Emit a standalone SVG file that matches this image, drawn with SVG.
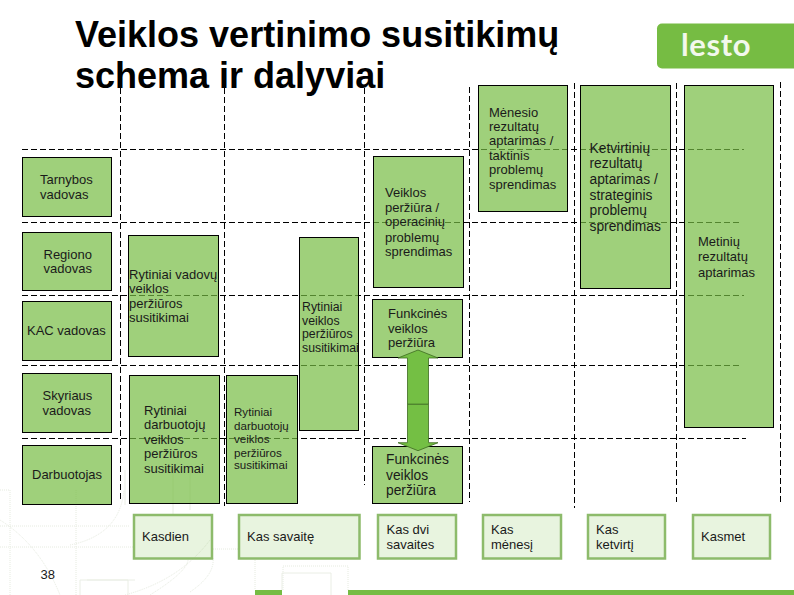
<svg xmlns="http://www.w3.org/2000/svg" width="794" height="595" viewBox="0 0 794 595">
<style>
text{font-family:"Liberation Sans",Arial,sans-serif;font-size:13px;fill:#1a1a1a}
.title{font-size:36px;font-weight:bold;fill:#000}
.b{font-size:13.800px}
.s{font-size:12.300px}
.xs{font-size:11.600px}
.box{fill:#76bc43;fill-opacity:.7;stroke:#000;stroke-width:1}
.pale{fill:#76bc43;fill-opacity:.17;stroke:#8dbb6b;stroke-width:2.500}
.dash{stroke:#000;stroke-width:1;stroke-dasharray:6 3;fill:none}
.deco{stroke:#e6ebe0;stroke-width:1;fill:none;stroke-dasharray:1 1}
.solid{stroke:#eaeee5;stroke-width:1;fill:none}
.arrow{fill:#74bf44;stroke:#3c6a20;stroke-width:.8}
</style>
<rect width="794" height="595" fill="#fff"/>
<g id="decoration">
<path class="deco" d="M0 490H10V595M0 526H130M0 547H133M0 520Q40 545 60 595M70 545Q120 535 124 490M213 549H238M255 560V590M283 590V566H348V590M125 595Q180 580 210 540M150 595Q190 570 188 558M213 558Q215 575 190 592M76 490V595"/>
<path class="solid" d="M282 590V573H331V595M80 595V580H128V595M87 580H135M125 470V505M173 470V514M190 470V510"/>
</g>
<g id="title">
<text class="title" x="75" y="46.500">Veiklos vertinimo susitikimų</text>
<text class="title" x="75" y="88">schema ir dalyviai</text>
</g>
<g id="logo">
<path d="M794 23.500H662a5 5 0 0 0-5 5V63.500a5 5 0 0 0 5 5H794Z" fill="#76bc43"/>
<text x="681" y="55.500" style="font-family:Lato,'Open Sans',sans-serif;font-size:31px;font-weight:bold;fill:#f2f8ec;letter-spacing:.6px">lesto</text>
</g>
<g id="connectors">
<path class="dash" d="M22 149.500H744M22 222.500H741M22 295.500H744M22 365.500H740M22 438.500H746"/>
<path class="dash" d="M120.500 88V499M224.500 88V506M364.500 88V485M469.500 87V502M574.500 83V508M676.500 83V502M780.500 82V503"/>
</g>
<g id="n-tarnybos"><rect class="box" x="22.500" y="157.500" width="89" height="59"/><text x="40" y="184">Tarnybos</text><text x="40" y="199">vadovas</text></g>
<g id="n-regiono"><rect class="box" x="22.500" y="232.500" width="89" height="58"/><text x="43.500" y="259">Regiono</text><text x="43.500" y="273.300">vadovas</text></g>
<g id="n-kac"><rect class="box" x="22.500" y="301.500" width="89" height="59"/><text x="27" y="335">KAC vadovas</text></g>
<g id="n-skyriaus"><rect class="box" x="22.500" y="373.500" width="89" height="59"/><text x="42.500" y="400">Skyriaus</text><text x="42.500" y="415">vadovas</text></g>
<g id="n-darbuotojas"><rect class="box" x="22.500" y="445.500" width="89" height="59"/><text x="32" y="478.700">Darbuotojas</text></g>
<g id="n-rytiniai-vadovu"><rect class="box" x="128.500" y="235.500" width="90" height="121"/><text x="129" y="279">Rytiniai vadovų</text><text x="129" y="293.300">veiklos</text><text x="129" y="308">peržiūros</text><text x="129" y="322">susitikimai</text></g>
<g id="n-rytiniai-veiklos"><rect class="box" x="299.500" y="237.500" width="59" height="193"/><text class="s" x="302" y="311.300">Rytiniai</text><text class="s" x="302" y="325.300">veiklos</text><text class="s" x="302" y="338">peržiūros</text><text class="s" x="302" y="352">susitikimai</text></g>
<g id="n-darbuotoju-1"><rect class="box" x="129.500" y="375.500" width="90" height="128"/><text x="144" y="415">Rytiniai</text><text x="144" y="429">darbuotojų</text><text x="144" y="443.700">veiklos</text><text x="144" y="457.700">peržiūros</text><text x="144" y="472.700">susitikimai</text></g>
<g id="n-darbuotoju-2"><rect class="box" x="226.500" y="375.500" width="71" height="128"/><text class="xs" x="234" y="416.300">Rytiniai</text><text class="xs" x="234" y="430.300">darbuotojų</text><text class="xs" x="234" y="443.300">veiklos</text><text class="xs" x="234" y="456.700">peržiūros</text><text class="xs" x="234" y="469.300">susitikimai</text></g>
<g id="n-veiklos"><rect class="box" x="373.500" y="156.500" width="90" height="131"/><text x="385" y="197">Veiklos</text><text x="385" y="212">peržiūra /</text><text x="385" y="226">operacinių</text><text x="385" y="241.700">problemų</text><text x="385" y="255.700">sprendimas</text></g>
<g id="n-funkcines-1"><rect class="box" x="372.500" y="299.500" width="90" height="58"/><text x="388" y="317.700">Funkcinės</text><text x="388" y="332.700">veiklos</text><text x="388" y="347">peržiūra</text></g>
<g id="n-funkcines-2"><rect class="box" x="372.500" y="446.500" width="90" height="57"/><text class="b" x="386" y="463.700">Funkcinės</text><text class="b" x="386" y="479.700">veiklos</text><text class="b" x="386" y="494.700">peržiūra</text></g>
<g id="n-menesio"><rect class="box" x="478.500" y="85.500" width="89" height="126"/><text x="489" y="117">Mėnesio</text><text x="489" y="131">rezultatų</text><text x="489" y="145.300">aptarimas /</text><text x="489" y="160">taktinis</text><text x="489" y="174">problemų</text><text x="489" y="188.700">sprendimas</text></g>
<g id="n-ketvirtiniu"><rect class="box" x="580.500" y="85.500" width="90" height="203"/><text class="b" x="589.500" y="152.700">Ketvirtinių</text><text class="b" x="589.500" y="168">rezultatų</text><text class="b" x="589.500" y="184">aptarimas /</text><text class="b" x="589.500" y="200">strateginis</text><text class="b" x="589.500" y="215">problemų</text><text class="b" x="589.500" y="230.700">sprendimas</text></g>
<g id="n-metiniu"><rect class="box" x="684.500" y="85.500" width="89" height="342"/><text x="698" y="246">Metinių</text><text x="698" y="261">rezultatų</text><text x="698" y="276.700">aptarimas</text></g>
<g id="arrows">
<path class="arrow" d="M418 350L438 358H428.500V404.300H407.500V358H398Z"/>
<path class="arrow" d="M418 450.700L438 442.700H428.500V404.300H407.500V442.700H398Z"/>
</g>
<g id="p-kasdien"><rect class="pale" x="134" y="515" width="78" height="43.500"/><text x="142" y="541">Kasdien</text></g>
<g id="p-savaite"><rect class="pale" x="239" y="515" width="120.500" height="43.500"/><text x="247" y="541">Kas savaitę</text></g>
<g id="p-dvi"><rect class="pale" x="378" y="515" width="78" height="43.500"/><text x="386.500" y="533.700">Kas dvi</text><text x="386.500" y="548.700">savaites</text></g>
<g id="p-menesi"><rect class="pale" x="483" y="515" width="78" height="43.500"/><text x="491" y="533.700">Kas</text><text x="491" y="548.700">mėnesį</text></g>
<g id="p-ketvirti"><rect class="pale" x="588" y="515" width="77" height="43.500"/><text x="596" y="533.700">Kas</text><text x="596" y="548.700">ketvirtį</text></g>
<g id="p-kasmet"><rect class="pale" x="693" y="515" width="77" height="43.500"/><text x="701" y="540.700">Kasmet</text></g>
<text x="40.500" y="579">38</text>
<g id="footer"><rect x="255" y="590" width="27" height="5" fill="#76bc43"/><rect x="348" y="590" width="446" height="5" fill="#76bc43"/></g>
</svg>
